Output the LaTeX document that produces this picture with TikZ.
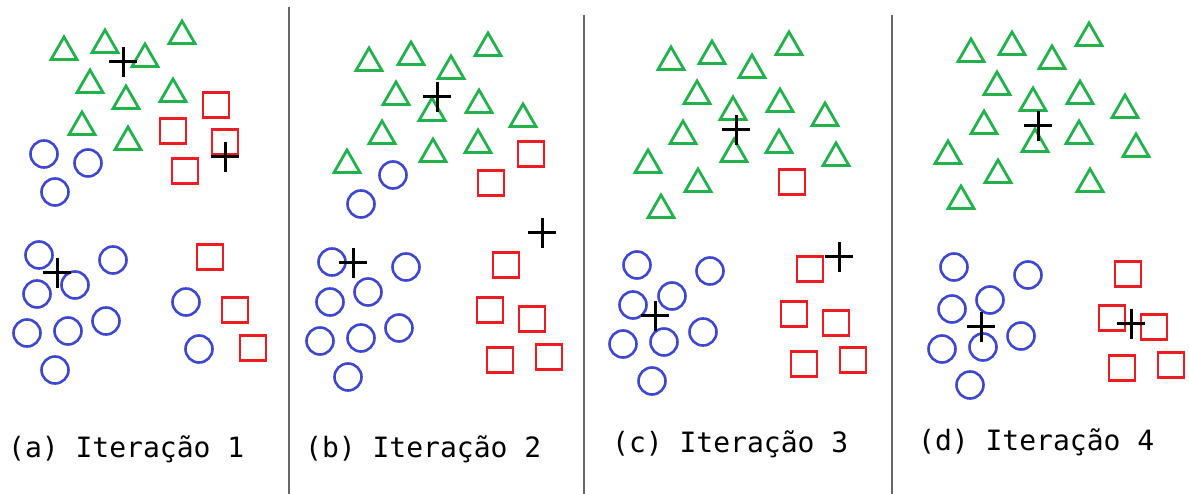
\documentclass[tikz,border=0pt]{standalone}
\usepackage{fontspec}
\newfontfamily\legfont{DejaVu Sans Mono}
\usetikzlibrary{shapes.geometric}
\definecolor{tricolor}{RGB}{34,177,76}
\definecolor{sqcolor}{RGB}{237,28,36}
\definecolor{circcolor}{RGB}{63,72,204}
\begin{document}
\begin{tikzpicture}[x=1pt,y=-1pt,
  tri/.style={regular polygon,regular polygon sides=3,draw=tricolor,line width=2.8pt,
    minimum size=30pt,inner sep=0pt},
  sq/.style={rectangle,draw=sqcolor,line width=2.8pt,minimum width=26pt,
    minimum height=25pt,inner sep=0pt},
  circ/.style={circle,draw=circcolor,line width=2.6pt,minimum size=27pt,inner sep=0pt},
  plus/.style={line width=3pt,black},
  sep/.style={line width=1.5pt,black!60},
  legend/.style={anchor=base west,inner sep=0pt,font=\legfont\fontsize{28}{30}\selectfont}]
\useasboundingbox (0,0) rectangle (1189,494);
% separators
\draw[sep] (289,7) -- (289,494);
\draw[sep] (584,15) -- (584,494);
\draw[sep] (892,15) -- (892,494);
% (a) iteracao 1
\foreach \x/\y [count=\i] in {64/52,105/45,145/59,182/36,90/85,126/101,173/94,82/127,128/142}
  \node[tri] (ta\i) at (\x,\y) {};
\foreach \x/\y [count=\i] in {216/105,173/131,225/142,185/171,210/257,235/310,253/348}
  \node[sq] (sa\i) at (\x,\y) {};
\foreach \x/\y [count=\i] in {44/154,88/163,55/192,39/255,113/260,37/294,75/285,27/333,68/331,106/321,55/370,186/302,199/349}
  \node[circ] (ca\i) at (\x,\y) {};
\foreach \x/\y in {123/62,225/157,57/273}
  \draw[plus] (\x-14,\y) -- (\x+14,\y) (\x,\y-15) -- (\x,\y+15);
\node[legend] (la) at (8,457) {(a) Iteração 1};
% (b) iteracao 2
\foreach \x/\y [count=\i] in {369/63,411/57,451/71,488/48,396/97,432/113,479/105,523/119,382/136,433/154,478/145,347/165}
  \node[tri] (tb\i) at (\x,\y) {};
\foreach \x/\y [count=\i] in {531/154,491/183,506/265,490/310,532/319,500/360,549/357}
  \node[sq] (sb\i) at (\x,\y) {};
\foreach \x/\y [count=\i] in {393/175,361/204,332/262,406/267,330/302,368/292,320/341,361/338,399/328,348/377}
  \node[circ] (cb\i) at (\x,\y) {};
\foreach \x/\y in {437/97,542/233,353/263}
  \draw[plus] (\x-14,\y) -- (\x+14,\y) (\x,\y-15) -- (\x,\y+15);
\node[legend] (lb) at (305,457) {(b) Iteração 2};
% (c) iteracao 3
\foreach \x/\y [count=\i] in {671/62,712/56,752/70,789/47,697/96,733/112,780/104,825/118,683/136,734/154,779/145,836/158,648/165,698/184,661/210}
  \node[tri] (tc\i) at (\x,\y) {};
\foreach \x/\y [count=\i] in {792/182,810/269,794/314,836/323,804/364,853/360}
  \node[sq] (sc\i) at (\x,\y) {};
\foreach \x/\y [count=\i] in {637/265,710/271,633/305,672/296,623/344,664/342,703/332,652/381}
  \node[circ] (cc\i) at (\x,\y) {};
\foreach \x/\y in {736/130,839/257,655/316}
  \draw[plus] (\x-14,\y) -- (\x+14,\y) (\x,\y-15) -- (\x,\y+15);
\node[legend] (lc) at (612,452) {(c) Iteração 3};
% (d) iteracao 4
\foreach \x/\y [count=\i] in {971/54,1012/47,1052/61,1089/38,997/87,1033/103,1080/96,1125/110,984/126,1035/144,1079/136,1136/149,948/156,998/175,1090/184,961/201}
  \node[tri] (td\i) at (\x,\y) {};
\foreach \x/\y [count=\i] in {1128/274,1112/318,1154/327,1122/368,1171/365}
  \node[sq] (sd\i) at (\x,\y) {};
\foreach \x/\y [count=\i] in {954/267,1028/275,952/309,990/300,942/349,983/347,1021/336,970/385}
  \node[circ] (cd\i) at (\x,\y) {};
\foreach \x/\y in {1038/126,1131/324,981/327}
  \draw[plus] (\x-14,\y) -- (\x+14,\y) (\x,\y-15) -- (\x,\y+15);
\node[legend] (ld) at (918,450) {(d) Iteração 4};
\end{tikzpicture}
\end{document}
